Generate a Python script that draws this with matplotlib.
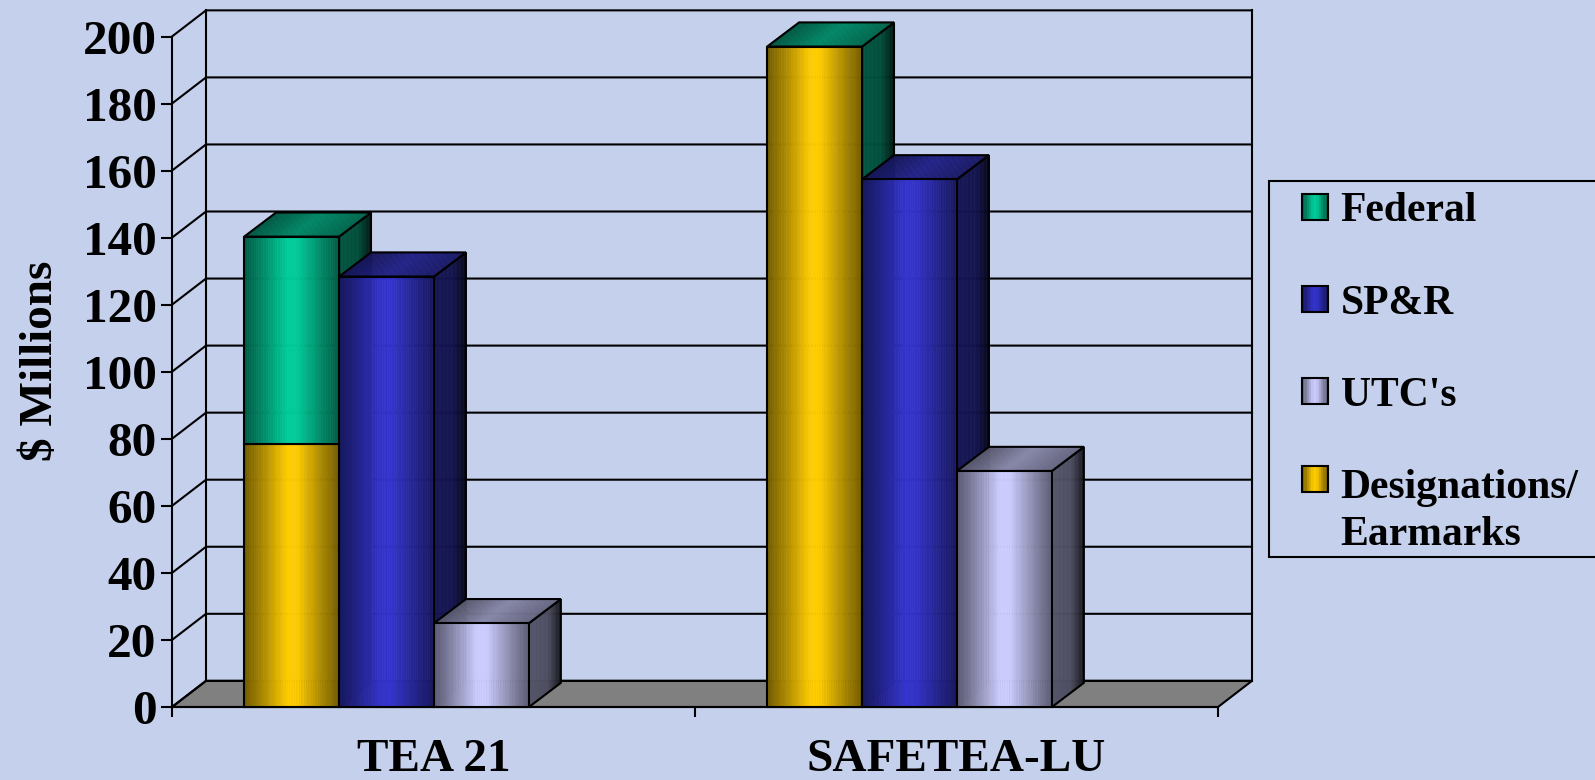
"""
3D-look stacked/clustered column chart of research funding by act.
"""

import matplotlib
matplotlib.use("Agg")
import matplotlib.pyplot as plt
import numpy as np
from matplotlib.collections import PolyCollection
from matplotlib.colors import to_rgb
from matplotlib.legend_handler import HandlerBase
from matplotlib.patches import Patch, Polygon, Rectangle

# Data ($ millions)
categories = ["TEA 21", "SAFETEA-LU"]
earmarks = [78.3, 197]
federal = [62, 0]
spr = [128.4, 157.4]
utcs = [25, 70.4]
y_ticks = list(range(0, 201, 20))
legend_labels = ["Federal", "SP&R", "UTC's", "Designations/\nEarmarks"]

# Style
BACKGROUND = "#C5D0EC"
FLOOR = "#808080"
GREEN = "#00CC99"
BLUE = "#3333CC"
LILAC = "#CCCCFF"
YELLOW = "#FFCC00"

WIDTH, HEIGHT = 1595, 780
WALL_DX, WALL_DY = 0.065, 7.8
BAR_DX, BAR_DY = 0.061, 7.2
BAR_OFFSET = 0.138
BAR_WIDTH = 0.1815

FRONT_STOPS = ([0, 0.15, 0.45, 0.55, 0.85, 1], [0.45, 0.62, 1, 1, 0.62, 0.45])
SIDE_STOPS = ([0, 0.6, 1], [0.42, 0.38, 0.12])
TOP_STOPS = ([0, 0.5, 1], [0.42, 0.66, 0.5])

plt.rcParams["font.family"] = ["Liberation Serif", "DejaVu Serif"]
plt.rcParams["font.weight"] = "bold"


def shaded_face(ax, origin, along, across, color, stops, zorder=3, strips=40):
    """Draw a parallelogram as thin strips shaded along one edge, outlined."""
    origin, along, across = map(np.asarray, (origin, along, across))
    edges = np.linspace(0, 1, strips + 1)
    verts = [
        [origin + a * along, origin + b * along,
         origin + b * along + across, origin + a * along + across]
        for a, b in zip(edges[:-1], edges[1:])
    ]
    shade = np.interp((edges[:-1] + edges[1:]) / 2, *stops)
    colors = np.outer(shade, to_rgb(color))
    ax.add_collection(PolyCollection(verts, facecolors=colors, edgecolors=colors,
                                     linewidths=0.4, zorder=zorder, clip_on=False))
    corners = [origin, origin + along, origin + along + across, origin + across]
    ax.add_patch(Polygon(corners, fill=False, edgecolor="black", linewidth=1.5,
                         zorder=zorder, clip_on=False))


def draw_column(ax, left, segments):
    """Draw one column from (bottom, height, color) segments."""
    total = sum(s[1] for s in segments)
    top_color = segments[-1][2]
    depth = (BAR_DX, BAR_DY)

    shaded_face(ax, (left + BAR_WIDTH, 0), depth, (0, total), top_color, SIDE_STOPS)
    shaded_face(ax, (left, total), (BAR_WIDTH, 0), depth, top_color, TOP_STOPS)
    for bottom, height, color in segments:
        if height > 0:
            shaded_face(ax, (left, bottom), (BAR_WIDTH, 0), (0, height), color, FRONT_STOPS)


class GradientHandle(HandlerBase):
    """Small shaded legend square, raised a line for two-line labels."""

    def __init__(self, lift=0.0):
        super().__init__()
        self.lift = lift

    def create_artists(self, legend, orig_handle, xdescent, ydescent,
                       width, height, fontsize, trans):
        side = height
        x0 = width - side - xdescent
        y0 = -ydescent + self.lift
        artists = []
        for t0, t1 in zip(np.linspace(0, 1, 12)[:-1], np.linspace(0, 1, 12)[1:]):
            shade = np.interp((t0 + t1) / 2, *FRONT_STOPS)
            rgb = np.array(to_rgb(orig_handle.get_facecolor())) * shade
            artists.append(Rectangle((x0 + t0 * side, y0), (t1 - t0) * side, side,
                                     facecolor=rgb, edgecolor=rgb, linewidth=0.2,
                                     transform=trans))
        artists.append(Rectangle((x0, y0), side, side, fill=False, edgecolor="black",
                                 linewidth=1.5, transform=trans))
        return artists


fig = plt.figure(figsize=(WIDTH / 100, HEIGHT / 100), dpi=100, facecolor=BACKGROUND)
ax = fig.add_axes([172 / WIDTH, 1 - 707 / HEIGHT, 1046 / WIDTH, 670.5 / HEIGHT])
ax.set_facecolor("none")
ax.set_xlim(0, 2)
ax.set_ylim(0, 200)

# Floor and back wall
ax.add_patch(Polygon([(0, 0), (WALL_DX, WALL_DY), (2 + WALL_DX, WALL_DY), (2, 0)],
                     facecolor=FLOOR, edgecolor="black", linewidth=1.5,
                     zorder=0.5, clip_on=False))
for value in y_ticks:
    ax.plot([0, WALL_DX, 2 + WALL_DX], [value, value + WALL_DY, value + WALL_DY],
            color="black", linewidth=1.5, zorder=1, clip_on=False)
for x in (WALL_DX, 2 + WALL_DX):
    ax.plot([x, x], [WALL_DY, 200 + WALL_DY], color="black", linewidth=1.5,
            zorder=1, clip_on=False)

# Columns, left to right so each one overlaps its neighbour's side face
for i in range(len(categories)):
    left = i + BAR_OFFSET
    draw_column(ax, left, [(0, earmarks[i], YELLOW), (earmarks[i], federal[i], GREEN)])
    draw_column(ax, left + BAR_WIDTH, [(0, spr[i], BLUE)])
    draw_column(ax, left + 2 * BAR_WIDTH, [(0, utcs[i], LILAC)])

# Axes
for name in ("top", "right"):
    ax.spines[name].set_visible(False)
for name in ("left", "bottom"):
    ax.spines[name].set_linewidth(1.5)
ax.set_yticks(y_ticks)
ax.set_xticks([0, 1, 2])
ax.set_xticklabels([])
ax.set_xticks([0.5, 1.5], labels=categories, minor=True)
ax.tick_params(axis="x", which="major", length=7.5, width=1.5)
ax.tick_params(axis="x", which="minor", length=0, pad=23, labelsize=34)
ax.tick_params(axis="y", length=8, width=1.5, pad=3, labelsize=35.5)
ax.set_ylabel(r"\$ Millions", fontsize=34, fontweight="bold", va="center")
ax.yaxis.set_label_coords(-0.125, 0.516)

# Legend box runs past the right edge of the figure, as in the source slide
fig.add_artist(Rectangle((1269 / WIDTH, 1 - 557 / HEIGHT), 400 / WIDTH, 376 / HEIGHT,
                         transform=fig.transFigure, facecolor=BACKGROUND,
                         edgecolor="black", linewidth=1.5))
handles = [Patch(facecolor=c) for c in (GREEN, BLUE, LILAC, YELLOW)]
legend = fig.legend(
    handles, legend_labels,
    handler_map={
        handles[0]: GradientHandle(),
        handles[1]: GradientHandle(),
        handles[2]: GradientHandle(),
        handles[3]: GradientHandle(lift=23),
    },
    loc="upper left", bbox_to_anchor=(1269 / WIDTH, 1 - 182 / HEIGHT),
    bbox_transform=fig.transFigure, borderaxespad=0, borderpad=0.25,
    fontsize=30, labelspacing=1.3, handlelength=1.17, handleheight=0.6,
    handletextpad=0.3, frameon=False,
)
legend.get_texts()[3].set_linespacing(1.3)

fig.savefig("out.png", dpi=100, facecolor=BACKGROUND)
